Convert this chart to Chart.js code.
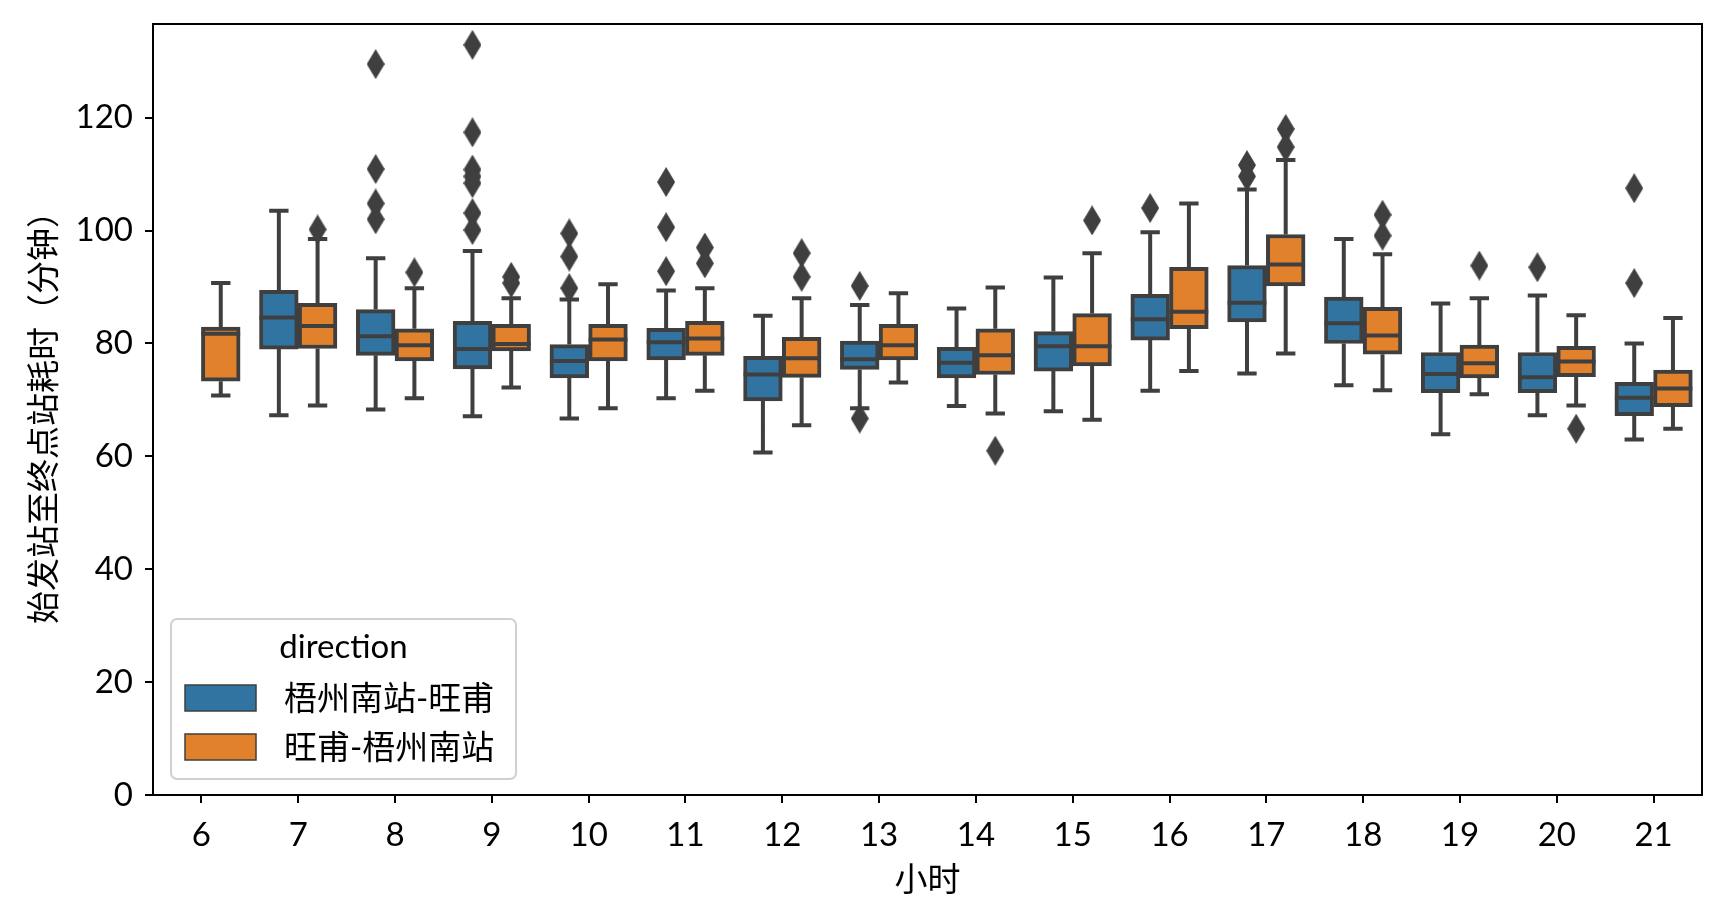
<!DOCTYPE html>
<html>
<head>
<meta charset="utf-8">
<script src="https://cdn.jsdelivr.net/npm/chart.js@4"></script>
<style>
  body { margin: 0; background: #fff; }
</style>
</head>
<body>
<canvas id="boxChart" width="1728" height="922"></canvas>
<script>
// horas (categorias)
const hours = ['6', '7', '8', '9', '10', '11', '12', '13', '14', '15', '16', '17', '18', '19', '20', '21'];
const yTicks = [0, 20, 40, 60, 80, 100, 120];

// 梧州南站-旺甫
const blueLow  = [null, 67.3, 68.3, 67.1, 66.7, 70.3, 60.7, 68.5, 68.9, 68.0, 71.6, 74.7, 72.6, 63.9, 67.3, 63.0];
const blueQ1   = [null, 79.0, 77.9, 75.5, 73.9, 77.1, 69.8, 75.4, 73.9, 75.1, 80.6, 83.8, 80.0, 71.3, 71.3, 67.2];
const blueMed  = [null, 84.6, 81.3, 79.0, 76.9, 80.2, 74.5, 77.2, 76.6, 79.5, 84.3, 87.2, 83.6, 74.6, 74.0, 70.4];
const blueQ3   = [null, 89.4, 86.0, 83.9, 79.8, 82.7, 77.7, 80.4, 79.3, 82.1, 88.7, 93.8, 88.2, 78.4, 78.4, 73.1];
const blueHigh = [null, 103.5, 95.1, 96.4, 87.8, 89.4, 84.9, 86.8, 86.2, 91.7, 99.7, 107.3, 98.5, 87.1, 88.5, 80.0];
const blueOut  = [[], [], [129.5, 110.9, 104.8, 102.0], [132.9, 117.4, 110.8, 109.6, 108.4, 103.1, 100.1],
  [99.5, 95.4, 89.8], [108.6, 100.6, 92.8], [], [90.2, 66.7], [], [], [104.0], [111.6, 109.6], [], [], [93.5], [107.5, 90.7]];

// 旺甫-梧州南站
const orangeLow  = [70.8, 69.0, 70.3, 72.2, 68.5, 71.6, 65.5, 73.1, 67.6, 66.5, 75.1, 78.2, 71.7, 71.0, 69.0, 64.9];
const orangeQ1   = [73.3, 79.1, 76.9, 78.7, 76.9, 77.9, 74.0, 77.1, 74.5, 76.0, 82.6, 90.2, 78.1, 73.9, 74.1, 68.8];
const orangeMed  = [81.7, 83.1, 79.7, 79.9, 80.7, 80.9, 77.4, 79.7, 77.9, 79.5, 85.6, 94.0, 81.4, 76.5, 76.8, 72.0];
const orangeQ3   = [82.9, 87.1, 82.6, 83.4, 83.4, 83.9, 81.1, 83.4, 82.6, 85.3, 93.5, 99.3, 86.4, 79.7, 79.5, 75.3];
const orangeHigh = [90.7, 98.5, 89.8, 88.0, 90.5, 89.8, 88.0, 88.9, 89.9, 96.0, 104.8, 112.5, 95.8, 88.0, 85.0, 84.5];
const orangeOut  = [[], [100.2], [92.6], [91.8, 90.7], [], [97.0, 94.2], [96.0, 91.8], [], [61.0], [101.8], [],
  [118.0, 114.8], [102.8, 99.1], [93.8], [64.9], []];

const BLUE = '#3274a1';
const ORANGE = '#e1812c';
const GRAY = '#3f3f3f';
const FONT = "Lato, 'Noto Sans CJK SC', sans-serif";

Chart.defaults.font.family = FONT;
Chart.defaults.color = '#000';

// marcador diamante delgado
let diamond = document.createElement('canvas');
diamond.width = 18;
diamond.height = 30;
let dctx = diamond.getContext('2d');
dctx.fillStyle = GRAY;
dctx.beginPath();
dctx.moveTo(9, 0);
dctx.lineTo(18, 15);
dctx.lineTo(9, 30);
dctx.lineTo(0, 15);
dctx.closePath();
dctx.fill();

let boxes = (q1, q3, off) => {
  let pts = [];
  q1.forEach((v, i) => { if (v != null) pts.push({x: i + off, y: [v, q3[i]]}); });
  return pts;
};

let whiskers = (low, q1, q3, high, off) => {
  let pts = [];
  hours.forEach((h, i) => {
    if (q1[i] == null) return;
    let x = i + off;
    pts.push({x: x, y: low[i]}, {x: x, y: q1[i]}, {x: x, y: null});
    pts.push({x: x, y: q3[i]}, {x: x, y: high[i]}, {x: x, y: null});
    pts.push({x: x - 0.1, y: low[i]}, {x: x + 0.1, y: low[i]}, {x: x, y: null});
    pts.push({x: x - 0.1, y: high[i]}, {x: x + 0.1, y: high[i]}, {x: x, y: null});
  });
  return pts;
};

let medians = (med, off) => {
  let pts = [];
  med.forEach((m, i) => {
    if (m == null) return;
    pts.push({x: i + off - 0.2, y: m}, {x: i + off + 0.2, y: m}, {x: i + off, y: null});
  });
  return pts;
};

let outliers = (out, off) => {
  let pts = [];
  out.forEach((list, i) => list.forEach(v => pts.push({x: i + off, y: v})));
  return pts;
};

let boxSet = (label, data, color) => ({
  label: label,
  data: data,
  backgroundColor: color,
  borderColor: GRAY,
  borderWidth: 4,
  borderSkipped: false,
  grouped: false,
  barPercentage: 1,
  categoryPercentage: 1,
  order: 3
});

let lineSet = (data) => ({
  type: 'line',
  data: data,
  borderColor: GRAY,
  borderWidth: 4,
  borderCapStyle: 'butt',
  pointRadius: 0,
  fill: false,
  tension: 0,
  spanGaps: false,
  order: 1
});

let pointSet = (data) => ({
  type: 'line',
  data: data,
  showLine: false,
  pointStyle: diamond,
  pointRadius: 10,
  order: 0
});

// marco y leyenda
const framePlugin = {
  id: 'frame',
  afterDraw(chart) {
    const {ctx, chartArea: a} = chart;
    ctx.save();
    ctx.strokeStyle = '#000';
    ctx.lineWidth = 2;
    ctx.strokeRect(a.left, a.top, a.right - a.left, a.bottom - a.top);

    // leyenda
    let lx = a.left + 18, ly = a.bottom - 176, lw = 345, lh = 160;
    ctx.fillStyle = 'rgba(255,255,255,0.8)';
    ctx.strokeStyle = '#d0d0d0';
    ctx.lineWidth = 2;
    ctx.beginPath();
    ctx.roundRect(lx, ly, lw, lh, 6);
    ctx.fill();
    ctx.stroke();

    ctx.font = '33px ' + FONT;
    ctx.fillStyle = '#000';
    ctx.textAlign = 'center';
    ctx.textBaseline = 'middle';
    ctx.fillText('direction', lx + lw / 2, ly + 28);

    const items = [['梧州南站-旺甫', BLUE], ['旺甫-梧州南站', ORANGE]];
    items.forEach((it, k) => {
      let py = ly + 66 + k * 49;
      ctx.fillStyle = it[1];
      ctx.fillRect(lx + 14, py, 71, 26);
      ctx.strokeStyle = GRAY;
      ctx.lineWidth = 1.5;
      ctx.strokeRect(lx + 14, py, 71, 26);
      ctx.fillStyle = '#000';
      ctx.textAlign = 'left';
      ctx.fillText(it[0], lx + 113, py + 14);
    });
    ctx.restore();
  }
};

const ctx = document.getElementById('boxChart');

const config = {
  type: 'bar',
  data: {
    datasets: [
      boxSet('梧州南站-旺甫', boxes(blueQ1, blueQ3, -0.2), BLUE),
      boxSet('旺甫-梧州南站', boxes(orangeQ1, orangeQ3, 0.2), ORANGE),
      lineSet(whiskers(blueLow, blueQ1, blueQ3, blueHigh, -0.2)),
      lineSet(whiskers(orangeLow, orangeQ1, orangeQ3, orangeHigh, 0.2)),
      lineSet(medians(blueMed, -0.2)),
      lineSet(medians(orangeMed, 0.2)),
      pointSet(outliers(blueOut, -0.2)),
      pointSet(outliers(orangeOut, 0.2))
    ]
  },
  options: {
    responsive: false,
    animation: false,
    events: [],
    layout: { padding: { left: 0, right: 26, top: 24, bottom: 0 } },
    plugins: {
      legend: { display: false },
      tooltip: { enabled: false }
    },
    scales: {
      x: {
        type: 'linear',
        min: -0.5,
        max: 15.5,
        offset: false,
        grid: { display: true, drawOnChartArea: false, offset: false, tickLength: 8, color: '#000', lineWidth: 2 },
        border: { display: true, color: '#000', width: 2 },
        ticks: {
          font: { size: 33 }, color: '#000', padding: 13, maxRotation: 0, autoSkip: false,
          callback: (value) => hours[value]
        },
        afterBuildTicks: (scale) => {
          scale.ticks = hours.map((h, i) => ({value: i}));
        },
        title: { display: true, text: '小时', font: { size: 33 }, color: '#000', padding: { top: 0, bottom: 22 } },
        afterFit: (scale) => {
          scale.height = 127;
          scale.paddingLeft = 0;
          scale.paddingRight = 0;
        }
      },
      y: {
        min: 0,
        max: 136.6,
        grid: { display: true, drawOnChartArea: false, tickLength: 8, color: '#000', lineWidth: 2 },
        border: { display: true, color: '#000', width: 2 },
        ticks: { font: { size: 33 }, color: '#000', padding: 12 },
        afterBuildTicks: (scale) => {
          scale.ticks = yTicks.map(v => ({value: v}));
        },
        title: { display: true, text: '始发站至终点站耗时（分钟）', font: { size: 33 }, color: '#000', padding: { top: 25, bottom: 0 } },
        afterFit: (scale) => {
          scale.width = 153;
          scale.paddingTop = 0;
          scale.paddingBottom = 0;
        }
      }
    }
  },
  plugins: [framePlugin]
};

const chart = new Chart(ctx, config);
</script>
</body>
</html>
